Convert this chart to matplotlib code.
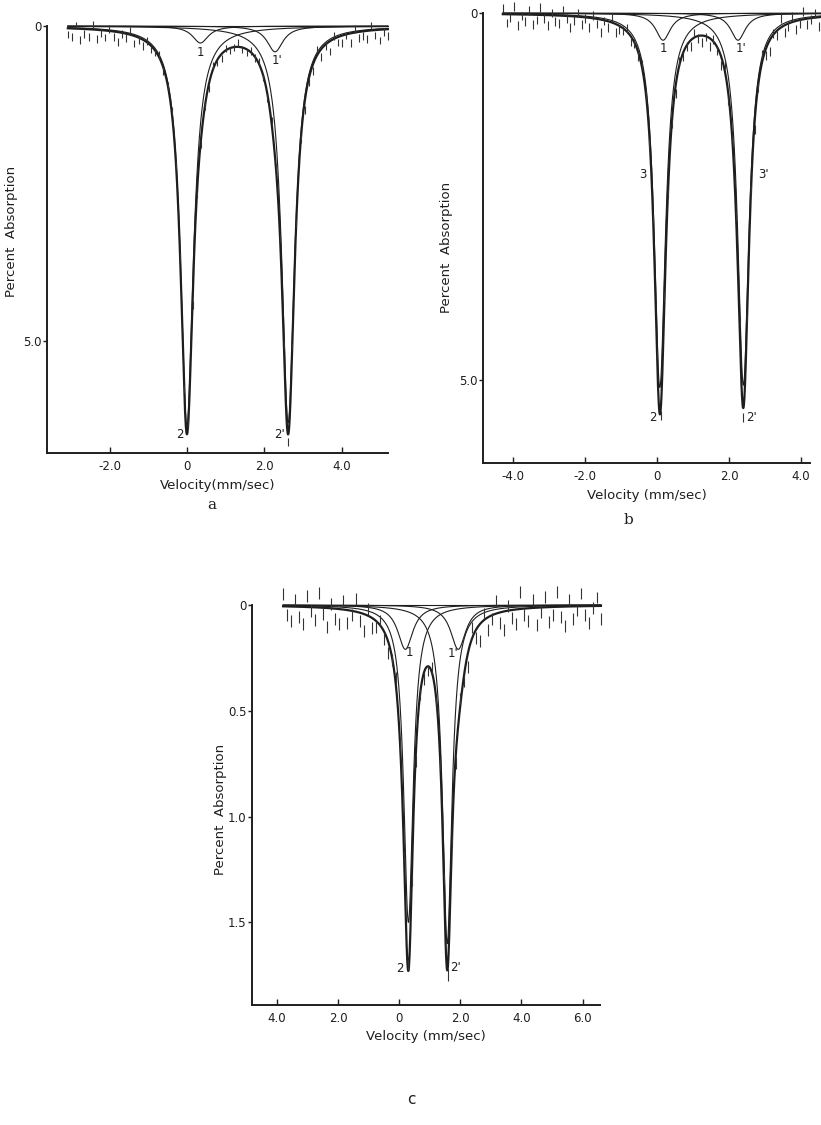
import numpy as np
import matplotlib
matplotlib.use('Agg')
import matplotlib.pyplot as plt

# fitted Lorentzian lines: centre (mm/sec), depth (%), full width (mm/sec)
a_names = ['1', "1'", '2', "2'"]
a_centres = [0.35, 2.28, 0.0, 2.62]
a_depths = [0.27, 0.41, 6.35, 6.30]
a_widths = [0.50, 0.50, 0.40, 0.40]
a_span = [-3.08, 5.2]
a_dev = [0.10, 0.14, -0.05, 0.18, 0.08, 0.12, -0.08, 0.15, 0.05, 0.11,
         -0.03, 0.09, 0.16, 0.02, 0.07, -0.06, 0.12, 0.04, 0.10, -0.02,
         0.06, 0.03, -0.04, 0.05, 0.02, -0.03, 0.04, 0.01, -0.02, 0.03,
         0.08, -0.05, 0.06, 0.02, 0.09, -0.04, 0.05, 0.07, -0.03, 0.04,
         0.01, -0.06, 0.03, 0.05, -0.02, 0.02, -0.04, 0.03, 0.06, -0.03,
         0.04, 0.08, -0.07, 0.12, 0.05, 0.10, -0.04, 0.14, 0.06, 0.11,
         -0.09, 0.13, 0.03, 0.16, -0.05, 0.09, 0.12, 0.02, 0.15, -0.06,
         0.10, 0.07, 0.13, -0.08, 0.09, 0.17, 0.04, 0.11]

b_names = ['1', "1'", '2', "2'"]
b_centres = [0.17, 2.25, 0.08, 2.40]
b_depths = [0.37, 0.37, 5.10, 5.07]
b_widths = [0.50, 0.50, 0.38, 0.38]
b_span = [-4.28, 4.8]
b_dev = [-0.08, 0.12, 0.04, -0.11, 0.15, 0.02, 0.09, -0.06, 0.13, 0.07,
         -0.10, 0.05, 0.14, -0.03, 0.08, 0.11, -0.07, 0.03, 0.16, 0.06,
         -0.05, 0.10, 0.02, 0.13, -0.04, 0.07, 0.18, 0.01, 0.09, -0.06,
         0.12, 0.05, 0.03, -0.04, 0.08, 0.02, 0.06, -0.03, 0.05, 0.10,
         -0.02, 0.04, 0.07, -0.05, 0.09, 0.03, 0.11, -0.04, 0.06, 0.02,
         0.08, -0.06, 0.04, 0.09, 0.01, 0.12, -0.03, 0.05, 0.14, -0.07,
         0.10, 0.03, 0.08, -0.09, 0.13, 0.04, -0.05, 0.11, 0.06, -0.10,
         0.09, 0.15, -0.02, 0.07, -0.12, 0.10, 0.04, -0.08, 0.12, 0.05,
         -0.11, 0.08, 0.02, -0.06, 0.13, -0.09, 0.06, 0.03]

c_names = ['1', "1'", '2', "2'"]
c_centres = [0.20, 1.93, 0.30, 1.57]
c_depths = [0.21, 0.21, 1.50, 1.60]
c_widths = [0.60, 0.60, 0.37, 0.37]
c_span = [-3.8, 6.6]
c_dev = [-0.06, 0.04, 0.07, -0.03, 0.05, 0.08, -0.05, 0.02, 0.06, -0.07,
         0.03, 0.09, -0.02, 0.05, 0.07, -0.04, 0.06, 0.02, -0.06, 0.04,
         0.08, -0.03, 0.05, 0.03, -0.02, 0.04, 0.06, 0.02, -0.03, 0.03,
         0.05, -0.02, 0.02, 0.04, -0.01, 0.03, 0.02, -0.02, 0.03, 0.04,
         -0.03, 0.05, 0.02, 0.06, -0.04, 0.03, 0.07, -0.05, 0.04, 0.08,
         -0.03, 0.06, 0.02, -0.06, 0.05, 0.09, -0.02, 0.04, 0.07, -0.08,
         0.03, 0.06, -0.04, 0.08, 0.02, -0.05, 0.07, 0.04, -0.07, 0.05,
         0.09, -0.03, 0.06, 0.02, -0.06, 0.04, 0.08, 0.01, -0.04, 0.06]

ink = '#1e1e1e'


def lorentz(v, c, d, w):
    return d / (1.0 + ((v - c) / (w / 2.0)) ** 2)


def total(v, centres, depths, widths):
    out = np.zeros_like(v)
    for c, d, w in zip(centres, depths, widths):
        out = out + lorentz(v, c, d, w)
    return out


def draw_panel(ax, centres, depths, widths, span, dev, err):
    v = np.linspace(span[0], span[1], 1200)
    ax.plot(span, [0, 0], color=ink, lw=0.8, clip_on=False)
    for c, d, w in zip(centres, depths, widths):
        ax.plot(v, lorentz(v, c, d, w), color=ink, lw=0.8, clip_on=False)
    ax.plot(v, total(v, centres, depths, widths), color=ink, lw=1.6,
            clip_on=False)
    # measured points drawn as short error bars
    vd = np.linspace(span[0], span[1], len(dev))
    yd = total(vd, centres, depths, widths) + np.array(dev)
    ax.vlines(vd, yd - err, yd + err, color='#333333', lw=0.8,
              clip_on=False)


def style(ax, xlim, ylim, xt, xtl, yt, ytl, xlab):
    ax.set_xlim(xlim)
    ax.set_ylim(ylim)
    ax.set_xticks(xt)
    ax.set_xticklabels(xtl)
    ax.set_yticks(yt)
    ax.set_yticklabels(ytl)
    for s in ['top', 'right']:
        ax.spines[s].set_visible(False)
    for s in ['left', 'bottom']:
        ax.spines[s].set_linewidth(1.4)
        ax.spines[s].set_color(ink)
    ax.tick_params(axis='x', direction='in', length=4, width=1, pad=5,
                   labelsize=8.5, colors=ink)
    ax.tick_params(axis='y', direction='out', length=3, width=1, pad=1,
                   labelsize=8.5, colors=ink)
    ax.set_xlabel(xlab, fontsize=9.5, labelpad=4, color=ink)
    ax.set_ylabel('Percent  Absorption', fontsize=9.5, color=ink)


def label(ax, centres, depths, widths, names, offsets):
    # small lines are named at their own dip, big ones at the bottom of the sum
    big = max(depths)
    for c, d, name, off in zip(centres, depths, names, offsets):
        y = d
        if d > 0.5 * big:
            y = total(np.array([c]), centres, depths, widths)[0]
        ax.annotate(name, xy=(c, y), xytext=off, textcoords='offset points',
                    ha='center', va='center', fontsize=8.5, color=ink)


fig = plt.figure(figsize=(8.21, 11.25), dpi=100)

# panel a
ax = fig.add_axes([0.0572, 0.5973, 0.4153, 0.3796])
draw_panel(ax, a_centres, a_depths, a_widths, a_span, a_dev, 0.06)
style(ax, (-3.62, 5.2), (6.78, 0), [-2, 0, 2, 4],
      ['-2.0', '0', '2.0', '4.0'], [0, 5], ['0', '5.0'],
      'Velocity(mm/sec)')
ax.yaxis.set_label_coords(-0.085, 0.52)
label(ax, a_centres, a_depths, a_widths, a_names,
      [(0, -7), (1.5, -6), (-5, 0), (-6.5, 0)])

# panel b
ax = fig.add_axes([0.5883, 0.5884, 0.3983, 0.4])
draw_panel(ax, b_centres, b_depths, b_widths, b_span, b_dev, 0.06)
style(ax, (-4.83, 4.25), (6.13, 0), [-4, -2, 0, 2, 4],
      ['-4.0', '-2.0', '0', '2.0', '4.0'], [0, 5], ['0', '5.0'],
      'Velocity (mm/sec)')
ax.yaxis.set_label_coords(-0.092, 0.48)
label(ax, b_centres, b_depths, b_widths, b_names,
      [(0, -6), (2, -6), (-5, -2), (6, -7)])
ax.text(-0.40, 2.2, '3', ha='center', va='center', fontsize=8.5, color=ink)
ax.text(2.95, 2.2, "3'", ha='center', va='center', fontsize=8.5, color=ink)

# panel c
ax = fig.add_axes([0.3069, 0.1067, 0.4239, 0.3556])
draw_panel(ax, c_centres, c_depths, c_widths, c_span, c_dev, 0.028)
style(ax, (-4.82, 6.57), (1.89, 0), [-4, -2, 0, 2, 4, 6],
      ['4.0', '2.0', '0', '2.0', '4.0', '6.0'], [0, 0.5, 1.0, 1.5],
      ['0', '0.5', '1.0', '1.5'], 'Velocity (mm/sec)')
ax.yaxis.set_label_coords(-0.072, 0.49)
label(ax, c_centres, c_depths, c_widths, c_names,
      [(3, -2), (-4, -3), (-6, 2), (6, 2)])

fig.text(212 / 821, 1 - 505 / 1125, 'a', family='DejaVu Serif',
         fontsize=11, ha='center', va='center', color=ink)
fig.text(628 / 821, 1 - 520 / 1125, 'b', family='DejaVu Serif',
         fontsize=11, ha='center', va='center', color=ink)
fig.text(411 / 821, 1 - 1100 / 1125, 'c', family='DejaVu Sans',
         fontsize=11, ha='center', va='center', color=ink)

fig.savefig('out.png', dpi=100, facecolor='white')
